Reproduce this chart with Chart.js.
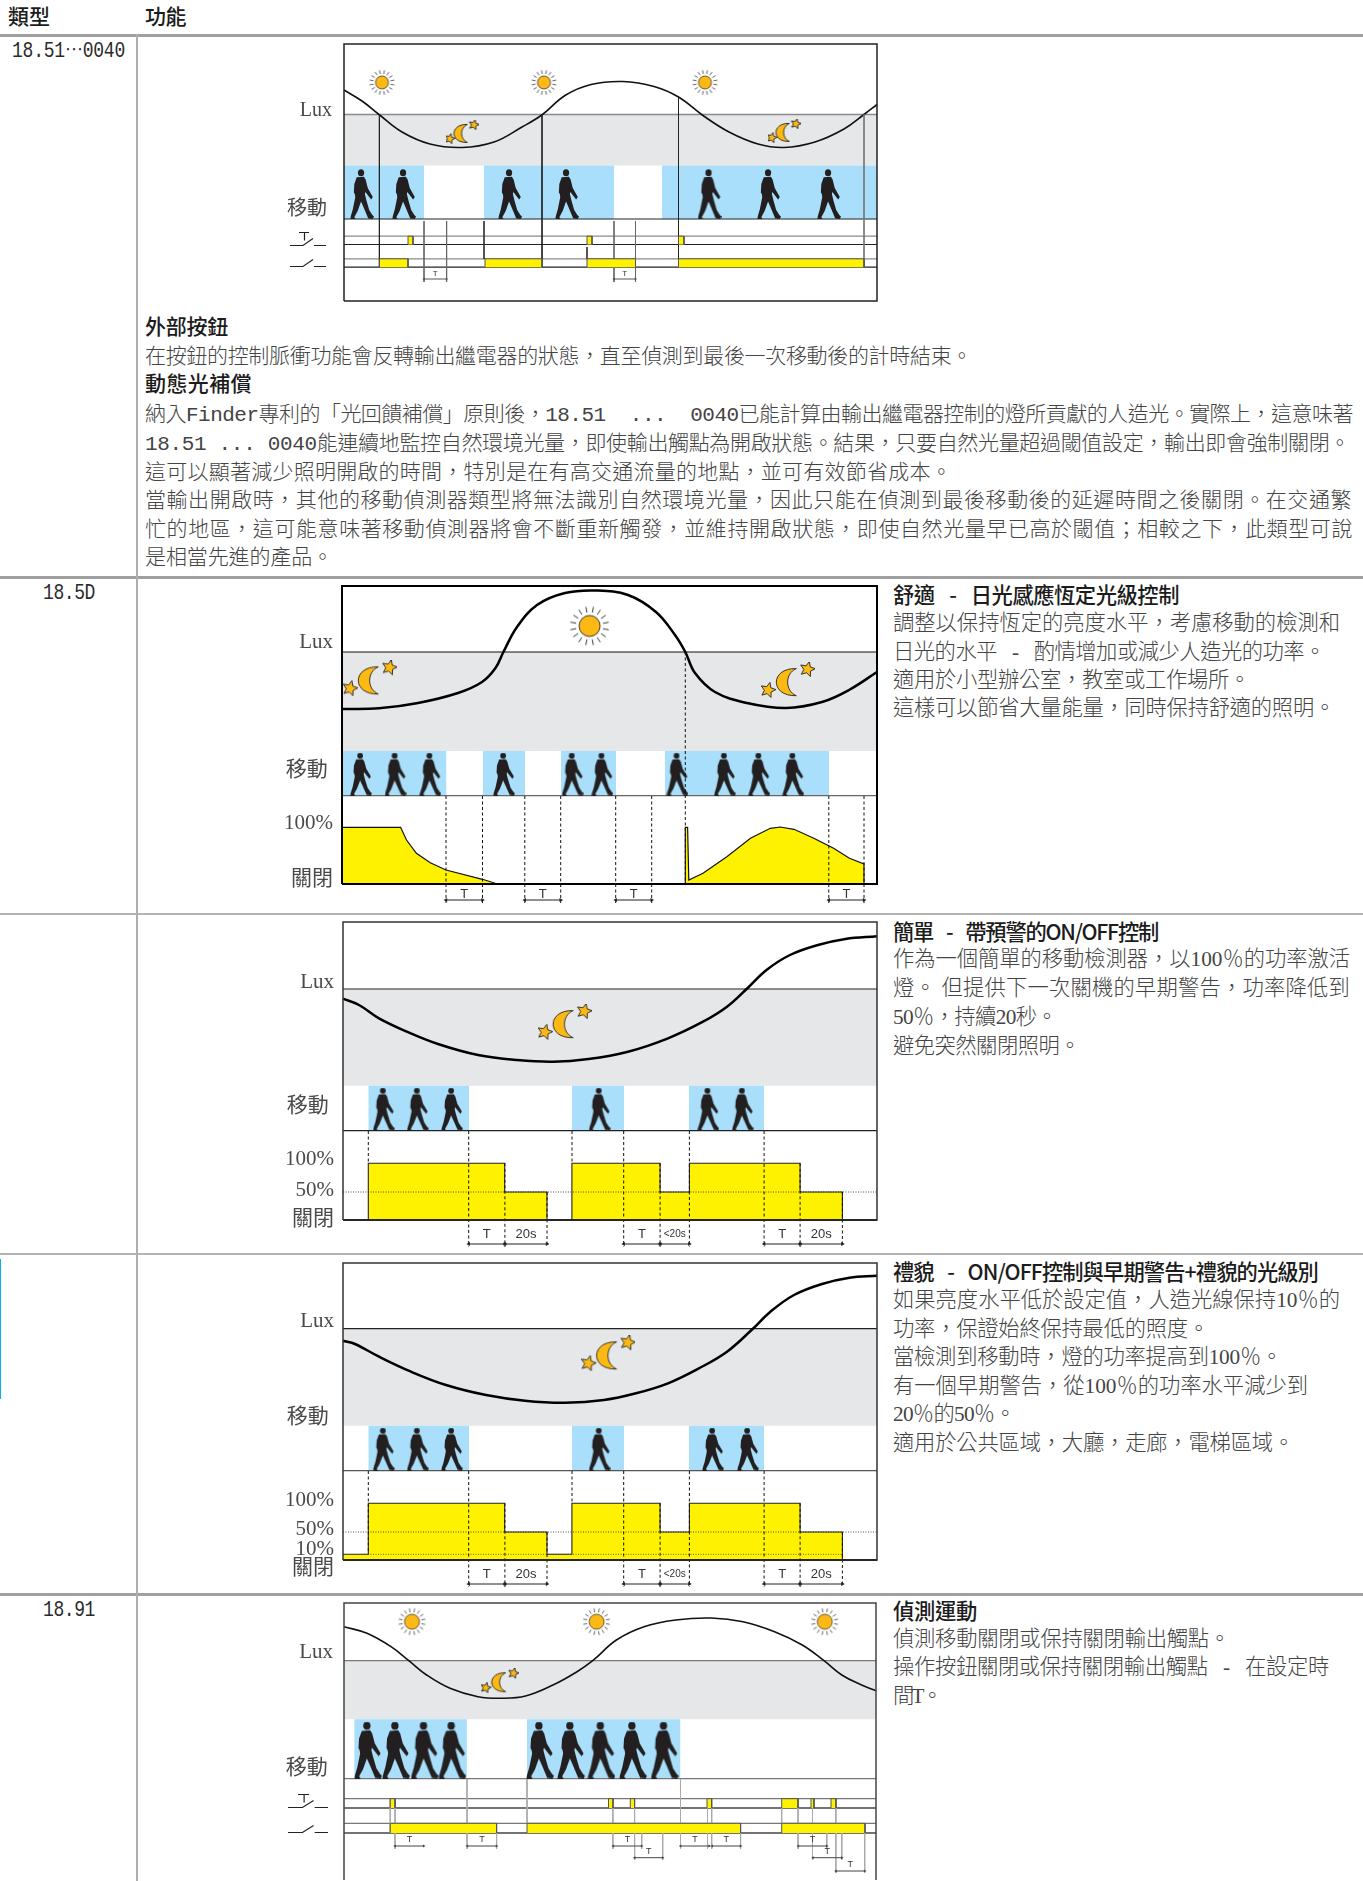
<!DOCTYPE html>
<html lang="zh-Hant"><head><meta charset="utf-8">
<script src="https://cdn.jsdelivr.net/npm/chart.js@4"></script>
<style>
html,body{margin:0;padding:0;background:#fff;width:1363px;height:1881px;overflow:hidden;position:relative}
.t{position:absolute;white-space:pre;line-height:28px;color:#444;font-weight:300}
.top{font-family:"Liberation Mono","Noto Sans CJK TC";font-size:21px}
.side{font-family:"Liberation Serif","Noto Sans CJK TC";font-size:21.3px}
.h{color:#1c1c1c;font-weight:500}
.side.h{font-family:"Noto Sans CJK TC"}
.r{position:absolute;background:#9c9c9c}
canvas{position:absolute}
</style></head><body>
<script>
// ---------- text ----------
const headerLabels=[["類型",8,19,42],["功能",145,19,41]];
const rowLabels=[["18.51⋯0040",12,51,113],["18.5D",43,593,52],["18.91",43,1610,52]];
const topLines=[
["外部按鈕",329,83,1],
["在按鈕的控制脈衝功能會反轉輸出繼電器的狀態，直至偵測到最後一次移動後的計時結束。",358,827,0],
["動態光補償",386,107,1],
["納入Finder專利的「光回饋補償」原則後，18.51  ...  0040已能計算由輸出繼電器控制的燈所貢獻的人造光。實際上，這意味著",416,1208,0],
["18.51 ... 0040能連續地監控自然環境光量，即使輸出觸點為開啟狀態。結果，只要自然光量超過閾值設定，輸出即會強制關閉。",445,1205,0],
["這可以顯著減少照明開啟的時間，特別是在有高交通流量的地點，並可有效節省成本。",473.5,807,0],
["當輸出開啟時，其他的移動偵測器類型將無法識別自然環境光量，因此只能在偵測到最後移動後的延遲時間之後關閉。在交通繁",502,1207,0],
["忙的地區，這可能意味著移動偵測器將會不斷重新觸發，並維持開啟狀態，即使自然光量早已高於閾值；相較之下，此類型可說",531,1208,0],
["是相當先進的產品。",559,188,0]];
const sideLines=[
["舒適 \u2002-\u2002 日光感應恆定光級控制",594,286,1],
["調整以保持恆定的亮度水平，考慮移動的檢測和",623,447,0],
["日光的水平 \u2002-\u2002 酌情增加或減少人造光的功率。",652,432,0],
["適用於小型辦公室，教室或工作場所。",680,357,0],
["這樣可以節省大量能量，同時保持舒適的照明。",708,442,0],
["簡單 \u2002-\u2002 帶預警的ON/OFF控制",931,265,1],
["作為一個簡單的移動檢測器，以100％的功率激活",959,457,0],
["燈。 但提供下一次關機的早期警告，功率降低到",988,457,0],
["50％，持續20秒。",1017,164,0],
["避免突然關閉照明。",1046,187,0],
["禮貌 \u2002-\u2002 ON/OFF控制與早期警告+禮貌的光級別",1271,425,1],
["如果亮度水平低於設定值，人造光線保持10％的",1300,447,0],
["功率，保證始終保持最低的照度。",1329,316,0],
["當檢測到移動時，燈的功率提高到100％。",1357,389,0],
["有一個早期警告，從100％的功率水平減少到",1386,415,0],
["20％的50％。",1414,122,0],
["適用於公共區域，大廳，走廊，電梯區域。",1443,401,0],
["偵測運動",1610,84,1],
["偵測移動關閉或保持關閉輸出觸點。",1639,337,0],
["操作按鈕關閉或保持關閉輸出觸點 \u2002-\u2002 在設定時",1667,436,0],
["間T。",1696,47,0]];
function putLine(txt,x,cy,w,cls,bold){
  const d=document.createElement('div');d.className='t '+cls+(bold?' h':'');d.textContent=txt;
  d.style.left=x+'px';d.style.top=(cy-14)+'px';document.body.appendChild(d);
  const n=d.getBoundingClientRect().width;const c=[...txt].length;
  if(w&&c>1)d.style.letterSpacing=((w-n)/c)+'px';
  return d;
}
headerLabels.forEach(a=>putLine(a[0],a[1],a[2],a[3],'top',1));
rowLabels.forEach(a=>{const d=putLine(a[0],a[1],a[2],a[3],'top',0);d.style.fontSize='18px';
  d.style.letterSpacing='0';const m=d.getBoundingClientRect().width;d.style.letterSpacing=((a[3]-m)/[...a[0]].length)+'px';d.style.transform='scaleY(1.2)';d.style.color='#2a2a2a';});
topLines.forEach(a=>putLine(a[0],145,a[1],a[2],'top',a[3]));
sideLines.forEach(a=>putLine(a[0],893,a[1],a[2],'side',a[3]));
function rule(x,y,w,h,c){const d=document.createElement('div');d.className='r';d.style.cssText+=`left:${x}px;top:${y}px;width:${w}px;height:${h}px;background:${c}`;document.body.appendChild(d);}
[[34,3,'#a0a0a0'],[576,3,'#a0a0a0'],[913,2,'#b4b4b4'],[1253,2,'#b4b4b4'],[1593,3,'#a0a0a0']].forEach(r=>rule(0,r[0],1363,r[1],r[2]));
rule(136,34,2,1847,'#aeaeae');rule(0,1259,1,140,'#00b4f0');

// ---------- icons (point styles) ----------
function cv(w,h,f){const c=document.createElement('canvas');c.width=Math.ceil(w);c.height=Math.ceil(h);f(c.getContext('2d'),w,h);return c;}
const personShape=[[.28,.165],[.58,.155],[.65,.21],[.74,.38],[.95,.56],[.88,.61],[.64,.46],[.62,.5],[.68,.62],[.8,.82],[.93,.92],[1,.95],[.95,1],[.76,.99],[.56,.76],[.46,.65],[.32,.84],[.18,.965],[.24,1],[.02,1],[.03,.95],[.12,.8],[.22,.56],[.2,.5],[.16,.47],[.18,.3]];
function person(w,h){return cv(w,h,(x,W,H)=>{x.fillStyle='#231f20';x.beginPath();x.ellipse(.46*W,.075*H,.13*W,.07*H,0,0,7);x.fill();x.beginPath();personShape.forEach((p,i)=>i?x.lineTo(p[0]*W,p[1]*H):x.moveTo(p[0]*W,p[1]*H));x.closePath();x.fill();});}
function sun(r,R,lw){const D=2*R+4;return cv(D,D,(x,W)=>{const c=W/2;x.strokeStyle='#222';x.lineWidth=lw;for(let i=0;i<16;i++){const a=i*Math.PI/8+.2,i0=r+(R-r)*.35;x.beginPath();x.moveTo(c+i0*Math.cos(a),c+i0*Math.sin(a));x.lineTo(c+R*Math.cos(a),c+R*Math.sin(a));x.stroke();}
  x.fillStyle='#fdb913';x.lineWidth=lw;x.beginPath();x.arc(c,c,r,0,7);x.fill();x.stroke();});}
function star(x,cx,cy,R){x.beginPath();for(let i=0;i<10;i++){const a=-Math.PI/2+.25+i*Math.PI/5,r=i%2?R*.46:R;x.lineTo(cx+r*Math.cos(a),cy+r*Math.sin(a));}x.closePath();x.fill();x.stroke();}
function moon(W,H){return cv(W,H,(x)=>{x.fillStyle='#fdb913';x.strokeStyle='#222';x.lineWidth=.9;const R=.4*H,cx=.56*W,cy=.56*H;
  const tx=cx+R*.35,ty=cy-R*.94,bx=cx+R*.35,by=cy+R*.94;x.beginPath();x.moveTo(tx,ty);x.bezierCurveTo(cx-R*1.5,cy-R*1.0,cx-R*1.5,cy+R*1.0,bx,by);x.bezierCurveTo(cx-R*.45,cy+R*.6,cx-R*.45,cy-R*.6,tx,ty);x.closePath();x.fill();x.stroke();
  star(x,.13*W,.78*H,.22*H);star(x,.86*W,.2*H,.22*H);});}
function contact(btn,w,h){return cv(w,h,(x,W,H)=>{x.strokeStyle='#222';x.lineWidth=1.2;const y=H-1.5,s=W/36;x.beginPath();x.moveTo(0,y);x.lineTo(13*s,y);x.lineTo(23*s,y-7);x.moveTo(24*s,y);x.lineTo(36*s,y);
  if(btn){x.moveTo(9*s,y-13);x.lineTo(19*s,y-13);x.moveTo(14.5*s,y-13);x.lineTo(14.5*s,y-5);}x.stroke();});}

// ---------- data ----------
// chart 1 : 18.51…0040
const c1Lux=[[0,211],[18,200],[35,186.5],[58,169],[86,157],[118,153.5],[150,159],[178,174],[198.5,186.5],[221,205.5],[247,216.5],[279,219.5],[310,214.5],[334.5,204],[359,185.5],[385,169],[414,157],[440,153.5],[471,159],[500,172],[520,186.5],[533,196.5]];
const c1Motion=[[0,80],[140,270],[318,533]];
const c1Walkers=[18,60,166,223,365.5,425,485];
const c1Suns=[38,200,361];
const c1Moons=[[118,169],[440,170]];
const c1Button=[[64,69],[243,248],[334.5,340]];
const c1Output=[[35.4,64],[141,198],[243,291.5],[334.5,520]];
const c1Verticals=[[35.4,186.5,34,'#222'],[198,186.5,34,'#222'],[334.5,204,34,'#222'],[520,186.5,34,'#777'],[80,80,19,'#666'],[102.6,80,19,'#666'],[140,80,42,'#333'],[243,54,42,'#333'],[270,80,19,'#666'],[291.5,80,19,'#666']];
const c1Dims=[[80,102.6,22,'T'],[270,291.5,22,'T']];
// chart 2 : 18.5D comfort
const c2Lux=[[0,175],[37,175.7],[76,181],[116,191],[140,202],[153.5,216],[161.4,232],[175,257],[195,279],[223,291],[254,293.5],[286,289],[314,272],[333,249],[343.3,232],[353,211],[373,192],[405,181],[444,176],[480,182],[507,194],[535,212]];
const c2Motion=[[1,104.5],[141,183],[219,274],[323,487]];
const c2Walkers=[19,53.5,88.3,162,230.6,260.3,335.4,382.8,417.2,451.2];
const c2Suns=[[247.6,258]];
const c2Moons=[[28,205.7],[446,204]];
const c2Output=[[0,56.7],[58.6,56.7],[64.5,44],[74.4,30.7],[88.3,21.3],[104,14],[140.5,4.7],[155.5,0],[343.3,0],[343.3,56.7],[345.6,56.7],[346.8,4],[361,10.7],[384.8,27.3],[408.5,45.7],[428.3,55.7],[438.2,57],[452,54.7],[471.8,45.7],[491.6,35.7],[507.4,25.7],[522,20],[522,0],[535,0]];
const c2Verticals=[[104,88,-19],[140.5,88,-19],[182.8,88,-19],[218.7,88,-19],[273.7,88,-19],[309.7,88,-19],[343.3,232,0],[486.8,88,-19],[522,88,-19]];
const c2Dims=[[104,140.5,-16,'T'],[182.8,218.7,-16,'T'],[273.7,309.7,-16,'T'],[486.8,522,-16,'T']];
// chart 3 : simple
const c3Lux=[[0,221.3],[16,215],[36,201.7],[64,188.3],[95,176],[135,165],[174,160],[210,158.3],[245.5,161],[285,168.3],[325,181.7],[360,198.3],[384,213.3],[403.6,231],[423.5,250],[447,265],[475,275],[502.5,281],[534,283.7]];
const c3Motion=[[25.3,126],[229,281],[346,421]];
const c3Walkers=[40.7,74.7,109,256.6,365.3,399.7];
const c3Moons=[[221.8,198]];
const c3Output=[[25.3,0],[25.3,56.7],[161.7,56.7],[161.7,28],[204,28],[204,0],[228.9,0],[228.9,56.7],[317.1,56.7],[317.1,28],[346.4,28],[346.4,56.7],[457.1,56.7],[457.1,28],[499.4,28],[499.4,0]];
const c3Verticals=[[25.3,89,56.7],[125.7,89,-27],[161.9,56.7,-27],[204,28,-27],[229,89,56.7],[280.7,89,-27],[317.1,56.7,-27],[346.4,89,-27],[421.1,89,-27],[457.1,56.7,-27],[499.4,28,-27]];
const c3Dims=[[125.7,161.9,-24,'T'],[161.9,204,-24,'20s'],[280.7,317.1,-24,'T'],[317.1,346.4,-24,'<20s'],[421.1,457.1,-24,'T'],[457.1,499.4,-24,'20s']];
// chart 4 : courtesy
const c4Lux=[[0,219.3],[12,216],[36,203.3],[68,188.3],[103,175],[143,165],[182,159.3],[222,157.3],[261,160],[293,166.7],[325,176.7],[356,191.7],[384,208.3],[409.6,231],[427.4,248.3],[451,265],[479,276],[506.5,282.3],[534,284.3]];
const c4Motion=[[25.3,126],[229,281],[346,421]];
const c4Walkers=[40.7,74.7,109,256.6,370,405];
const c4Moons=[[265.3,206.7]];
const c4Output=[[0,5.7],[25.3,5.7],[25.3,56.7],[161.7,56.7],[161.7,28],[204,28],[204,5.7],[228.9,5.7],[228.9,56.7],[317.1,56.7],[317.1,28],[346.4,28],[346.4,56.7],[457.1,56.7],[457.1,28],[499.4,28],[499.4,0]];
const c4Verticals=[[25.3,89,5.7],[125.7,89,-27],[161.9,56.7,-27],[204,28,-27],[229,89,56.7],[280.7,89,-27],[317.1,56.7,-27],[346.4,89,-27],[421.1,89,-27],[457.1,56.7,-27],[499.4,28,-27]];
const c4Dims=c3Dims;
// chart 5 : 18.91
const c5Lux=[[0,253.3],[23,246.7],[47,233.3],[64.8,219.3],[82.6,205],[106,191.7],[134,183.3],[157.7,181.7],[181.5,184],[209,195],[233,208.3],[248.7,219.3],[272.4,240],[300,253.3],[331.7,260],[367.3,262],[399,258.3],[430.6,248.3],[458.3,235],[480,219.3],[497.8,205],[517.6,195],[532,189.3]];
const c5Motion=[[10.2,122.9],[183,336.5]];
const c5Walkers=[24,52,80.6,108.3,196,227,257.4,289,320.6];
const c5Suns=[68,252.6,480.8];
const c5Moons=[[155.8,199.3]];
const c5Button=[[46.2,51],[264.5,269],[286.3,290.6],[363,367.7],[437.7,454],[467,470],[487,492]];
const c5Output=[[46.2,152.6],[183,396.6],[437.7,521]];
const c5Verticals=[[46.2,81,47],[51,81,31],[123,101,31],[152.6,47,31],[183,101,56.7],[268.9,72,31],[290.6,72,20],[297.7,47,31],[318.7,47,20],[336.5,101,31],[363.5,72,31],[367.7,72,31],[396.6,47,31],[437.7,72,56.7],[454,72,31],[468.5,72,20],[482.8,47,31],[491.9,72,7],[497.8,47,20],[520.7,47,7]];
const c5Dims=[[51,79.8,34,'T'],[123.3,152.6,34,'T'],[269.2,297.7,34,'T'],[336.5,365.3,34,'T'],[368.1,396.6,34,'T'],[454.3,482.8,34,'T'],[290.6,318.7,22.3,'T'],[468.9,497.8,22.3,'T'],[491.9,520.7,9,'T']];
// axis labels: [text, level]
const SHIFT='\u2005';
const c1Axis=[["Lux",190],["移動"+SHIFT,91]];
const c2Axis=[["Lux",241.5],["移動"+SHIFT,114],["100%",60.5],["關閉",5]];
const c3Axis=[["Lux",238],["移動"+SHIFT,114],["100%",61],["50%",30],["關閉",1]];
const c4Axis=[["Lux",238.5],["移動"+SHIFT,143],["100%",59.5],["50%",31],["10%",11],["關閉",-8]];
const c5Axis=[["Lux",228],["移動"+SHIFT,112]];

// ---------- chart construction ----------
const GREY='#e6e7e8',BLUE='#a9dffa',YEL='#fff200';
Chart.register({id:'dimText',afterDatasetsDraw(ch,a,o){if(!o.items)return;const c=ch.ctx,xs=ch.scales.x,ys=ch.scales.y;c.save();c.fillStyle='#333';c.textAlign='center';c.textBaseline='middle';
  o.items.forEach(i=>{c.font=`${i[3]}px "Liberation Sans"`;c.fillText(i[2],xs.getPixelForValue(i[0]),ys.getPixelForValue(i[1]));});c.restore();}});
function build(id,f,axis,pad,ymin,paint,items,fontSize){
  const G=78,W=f.r-f.l,H=f.b-f.t,c=document.createElement('canvas');
  const cw=G+W+8,ch=3+H-ymin+3;c.width=cw;c.height=ch;c.id=id;c.style.cssText=`left:${f.l-G}px;top:${f.t-3}px;width:${cw}px;height:${ch}px`;document.body.appendChild(c);
  const ds=[];const add=(pts,st)=>ds.push(Object.assign({type:'line',data:pts.map(p=>({x:p[0],y:p[1]})),pointRadius:0,pointHoverRadius:0,borderWidth:1,borderColor:'#000',clip:false,fill:false,tension:0,order:-ds.length},st));
  paint(add,W,H);
  new Chart(c,{type:'line',data:{datasets:ds},options:{responsive:false,animation:false,devicePixelRatio:1,events:[],layout:{autoPadding:false,padding:{top:3,right:8,bottom:3,left:0}},
    plugins:{legend:{display:false},tooltip:{enabled:false},dimText:{items}},
    scales:{x:{type:'linear',display:false,min:0,max:W},
      y:{type:'linear',min:ymin,max:H,border:{display:false},grid:{display:false,drawTicks:false},
        afterBuildTicks(s){s.ticks=axis.map(a=>({value:a[1]}));},
        afterFit(s){s.width=G;s.paddingTop=0;s.paddingBottom=0;},
        ticks:{autoSkip:false,padding:pad,color:'#4a4a4a',font:{family:'"Liberation Serif","Noto Sans CJK TC"',size:fontSize||21},callback:(v,i)=>axis[i][0]}}}}});
}
function lanes(add,W,list,col,lw){list.forEach(l=>add([[0,l],[W,l]],{borderColor:col,borderWidth:lw}));}
function bands(add,list,top,bot){list.forEach(b=>add([[b[0],top],[b[1],top]],{fill:{value:bot},backgroundColor:BLUE,borderColor:'transparent'}));}
function blocks(add,list,lo,hi,edge){list.forEach(b=>add([[b[0],lo],[b[0],hi],[b[1],hi],[b[1],lo]],{fill:{value:lo},backgroundColor:YEL,borderColor:edge,borderWidth:1}));}
function dims(add,list,col,r){list.forEach(d=>add([[d[0],d[2]],[d[1],d[2]]],{borderColor:col,pointStyle:'triangle',pointRadius:r,pointRotation:[-90,90],pointBackgroundColor:col,pointBorderWidth:0}));}
function verts(add,list,style){list.forEach(v=>add([[v[0],v[1]],[v[0],v[2]]],Object.assign({},style,v[3]?{borderColor:v[3]}:{})));}
function icons(add,pts,img,r){add(pts,{showLine:false,pointStyle:img,pointRadius:r||5,pointHoverRadius:r||5});}
const dimText=(list,off,size)=>list.map(d=>[(d[0]+d[1])/2,d[2]+off,d[3],d[3]=='<20s'?size-3:size]);

build('c1',{l:344,t:44,r:877,b:301},c1Axis,12,-2,(add,W,H)=>{
  add([[0,186.5],[W,186.5]],{fill:{value:135.5},backgroundColor:GREY,borderColor:'#8a8a8a',borderWidth:1.3});
  bands(add,c1Motion,135.5,82);
  add(c1Lux,{tension:.4,borderColor:'#111',borderWidth:1.6});
  icons(add,c1Walkers.map(t=>[t,107]),person(24,50));
  icons(add,c1Suns.map(t=>[t,218.5]),sun(6.5,12.5,.7));
  icons(add,c1Moons,moon(33,24));
  lanes(add,W,[64.8,42.2],'#8a8a8a',1.2);lanes(add,W,[56.5,33.8,82],'#222',1.2);
  verts(add,c1Verticals,{borderWidth:.9});
  blocks(add,c1Button,56.5,64.8,'#555');blocks(add,c1Output,33.8,42.2,'#555');
  dims(add,c1Dims,'#555',1.6);
  icons(add,[[-36,62]],contact(true,36,16),50);icons(add,[[-36,38]],contact(false,36,10),50);
  add([[0,0],[W,0],[W,H],[0,H],[0,0]],{borderColor:'#222',borderWidth:1.5});
},dimText(c1Dims,5,8),20);

build('c2',{l:342,t:586,r:877,b:884},c2Axis,9,-22,(add,W,H)=>{
  add([[0,232],[W,232]],{fill:{value:133},backgroundColor:GREY,borderColor:'#111',borderWidth:1.2});
  bands(add,c2Motion,133,88.3);
  add([[0,88.3],[W,88.3]],{borderColor:'#666',borderWidth:1.2});
  add(c2Lux,{tension:.38,borderWidth:2.5});
  icons(add,c2Walkers.map(t=>[t,110]),person(22,43));
  icons(add,c2Suns,sun(10.5,19.5,.9));icons(add,c2Moons,moon(54,36));
  add(c2Output,{fill:{value:0},backgroundColor:YEL,borderColor:'#111',borderWidth:1.2});
  verts(add,c2Verticals,{borderDash:[3,2.5],borderWidth:1,borderColor:'#111'});
  add([[0,0],[W,0]],{borderWidth:2});
  dims(add,c2Dims,'#222',2.4);
  add([[0,0],[W,0],[W,H],[0,H],[0,0]],{borderWidth:2});
},dimText(c2Dims,6,13));

build('c3',{l:343,t:922,r:877,b:1220},c3Axis,9,-29,(add,W,H)=>{
  add([[0,231],[W,231]],{fill:{value:134.3},backgroundColor:GREY,borderColor:'#222',borderWidth:1.2});
  bands(add,c3Motion,134.3,89.3);
  add([[0,89.3],[W,89.3]],{borderColor:'#222',borderWidth:1.2});
  add(c3Lux,{tension:.38,borderWidth:2.5});
  icons(add,c3Walkers.map(t=>[t,111]),person(22,43));
  icons(add,c3Moons,moon(54,36));
  add(c3Output,{fill:{value:0},backgroundColor:YEL,borderColor:'#222',borderWidth:1.1});
  add([[0,28],[W,28]],{borderColor:'#222',borderWidth:.8,borderDash:[1,1.5]});
  verts(add,c3Verticals,{borderDash:[3,2.5],borderWidth:1,borderColor:'#111'});
  add([[0,0],[W,0]],{borderWidth:2});
  dims(add,c3Dims,'#222',2.4);
  add([[0,0],[W,0],[W,H],[0,H],[0,0]],{borderColor:'#333',borderWidth:1.5});
},dimText(c3Dims,10,13));

build('c4',{l:343,t:1263,r:877,b:1560},c4Axis,9,-29,(add,W,H)=>{
  add([[0,231.3],[W,231.3]],{fill:{value:134.3},backgroundColor:GREY,borderColor:'#222',borderWidth:1.2});
  bands(add,c4Motion,134.3,89.3);
  add([[0,89.3],[W,89.3]],{borderColor:'#555',borderWidth:1.2});
  add(c4Lux,{tension:.38,borderWidth:2.5});
  icons(add,c4Walkers.map(t=>[t,111]),person(22,43));
  icons(add,c4Moons,moon(54,36));
  add(c4Output,{fill:{value:0},backgroundColor:YEL,borderColor:'#222',borderWidth:1.1});
  add([[0,28],[W,28]],{borderColor:'#222',borderWidth:.8,borderDash:[1,1.5]});
  add([[25,5.7],[499,5.7]],{borderColor:'#444',borderWidth:.8,borderDash:[1,1.5]});
  verts(add,c4Verticals,{borderDash:[3,2.5],borderWidth:1,borderColor:'#111'});
  add([[0,0],[W,0]],{borderWidth:2});
  dims(add,c4Dims,'#222',2.4);
  add([[0,0],[W,0],[W,H],[0,H],[0,0]],{borderColor:'#333',borderWidth:1.5});
},dimText(c4Dims,10,13));

build('c5',{l:344,t:1603,r:876,b:1880},c5Axis,11,0,(add,W,H)=>{
  add([[0,219.3],[W,219.3]],{fill:{value:160.7},backgroundColor:GREY,borderColor:'#777',borderWidth:1.2});
  bands(add,c5Motion,160.7,101.3);
  add([[0,101.3],[W,101.3]],{borderColor:'#777',borderWidth:1.2});
  add(c5Lux,{tension:.4,borderColor:'#111',borderWidth:1.6});
  icons(add,c5Walkers.map(t=>[t,130]),person(28,57));
  icons(add,c5Suns.map(t=>[t,258.3]),sun(7.5,13.5,.7));
  icons(add,c5Moons,moon(38,25));
  lanes(add,W,[81.3,56.7],'#777',1.2);lanes(add,W,[72,47],'#444',1.3);
  verts(add,c5Verticals,{borderColor:'#aaa',borderWidth:1});
  blocks(add,c5Button,72,81.3,'#555');blocks(add,c5Output,47,56.7,'#555');
  dims(add,c5Dims,'#444',1.7);
  icons(add,[[-36,80]],contact(true,40,18),50);icons(add,[[-36,52]],contact(false,40,12),50);
  add([[0,0],[0,H],[W,H],[W,0]],{borderColor:'#444',borderWidth:1.5});
},dimText(c5Dims,6,9));
</script>
</body></html>
